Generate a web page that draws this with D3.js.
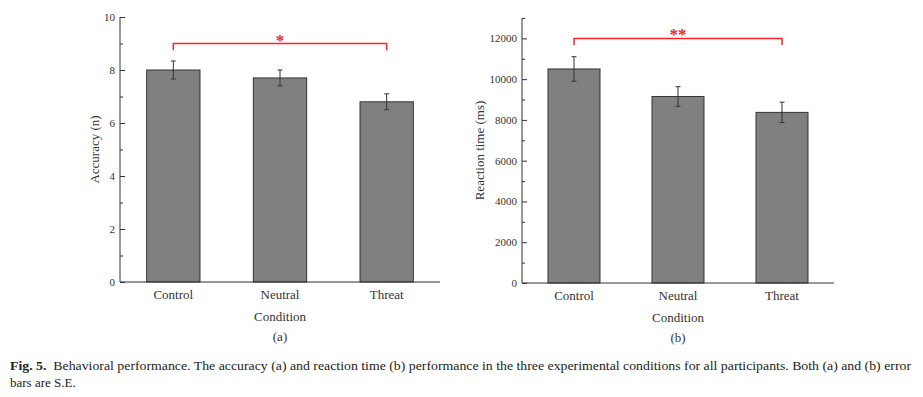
<!DOCTYPE html>
<html>
<head>
<meta charset="utf-8">
<script src="https://cdn.jsdelivr.net/npm/d3@7"></script>
<style>
  body { margin: 0; background: #fff; }
  text { font-family: "Liberation Serif", "Times New Roman", serif; fill: #333; }
</style>
</head>
<body>
<script>
// Data
var conditions = ["Control", "Neutral", "Threat"];
var accuracy = [8.0, 7.7, 6.8];
var accuracySE = [0.34, 0.3, 0.3];
var rtime = [10500, 9150, 8370];
var rtimeSE = [600, 480, 500];
var accTicks = [0, 2, 4, 6, 8, 10];
var accMinor = [1, 3, 5, 7, 9];
var rtTicks = [0, 2000, 4000, 6000, 8000, 10000, 12000];
var rtMinor = [1000, 3000, 5000, 7000, 9000, 11000, 13000];

var width = 923, height = 397;

var svg = d3.select("body").append("svg")
    .attr("width", width)
    .attr("height", height);

// draw one bar panel
function panel(opt) {
  var x = d3.scaleBand()
      .domain(conditions)
      .range([opt.left, opt.right])
      .paddingInner(0.5)
      .paddingOuter(0.25);

  var y = d3.scaleLinear()
      .domain(opt.domain)
      .range([opt.bottom, opt.top]);

  var g = svg.append("g");

  // bars
  g.selectAll("rect.bar")
      .data(opt.values)
      .enter().append("rect")
      .attr("class", "bar")
      .attr("x", function(d, i) { return x(conditions[i]); })
      .attr("y", function(d) { return y(d); })
      .attr("width", x.bandwidth())
      .attr("height", function(d) { return y(0) - y(d); })
      .attr("fill", "#808080")
      .attr("stroke", "#333")
      .attr("stroke-width", 1);

  // error bars
  var err = g.selectAll("g.err")
      .data(opt.values)
      .enter().append("g")
      .attr("class", "err")
      .attr("stroke", "#333")
      .attr("stroke-width", 1);

  err.append("line")
      .attr("x1", function(d, i) { return x(conditions[i]) + x.bandwidth() / 2; })
      .attr("x2", function(d, i) { return x(conditions[i]) + x.bandwidth() / 2; })
      .attr("y1", function(d, i) { return y(d + opt.se[i]); })
      .attr("y2", function(d, i) { return y(d - opt.se[i]); });

  [1, -1].forEach(function(s) {
    err.append("line")
        .attr("x1", function(d, i) { return x(conditions[i]) + x.bandwidth() / 2 - 2.5; })
        .attr("x2", function(d, i) { return x(conditions[i]) + x.bandwidth() / 2 + 2.5; })
        .attr("y1", function(d, i) { return y(d + s * opt.se[i]); })
        .attr("y2", function(d, i) { return y(d + s * opt.se[i]); });
  });

  // y axis, ticks pointing inward
  var yAxis = g.append("g")
      .attr("transform", "translate(" + opt.left + ",0)")
      .call(d3.axisRight(y).tickValues(opt.ticks).tickSize(5).tickFormat(""));
  yAxis.select(".domain").attr("stroke", "#333").attr("d", "M0," + y(opt.domain[1]) + "V" + y(0));
  yAxis.selectAll(".tick line").attr("stroke", "#333");

  g.append("g")
      .attr("transform", "translate(" + opt.left + ",0)")
      .call(d3.axisRight(y).tickValues(opt.minor).tickSize(3).tickFormat(""))
      .call(function(a) { a.select(".domain").remove(); })
      .selectAll(".tick line").attr("stroke", "#333");

  g.selectAll("text.ylab")
      .data(opt.ticks)
      .enter().append("text")
      .attr("class", "ylab")
      .attr("x", opt.left - 5)
      .attr("y", function(d) { return y(d) + 4; })
      .attr("text-anchor", "end")
      .style("font-size", "11px")
      .text(function(d) { return d; });

  // x axis
  g.append("line")
      .attr("x1", opt.left).attr("x2", opt.right)
      .attr("y1", y(0)).attr("y2", y(0))
      .attr("stroke", "#333")
      .attr("stroke-width", 1.2);

  g.selectAll("text.xlab")
      .data(conditions)
      .enter().append("text")
      .attr("class", "xlab")
      .attr("x", function(d) { return x(d) + x.bandwidth() / 2; })
      .attr("y", y(0) + 17)
      .attr("text-anchor", "middle")
      .style("font-size", "13px")
      .text(function(d) { return d; });

  g.append("text")
      .attr("x", x("Neutral") + x.bandwidth() / 2)
      .attr("y", y(0) + 39)
      .attr("text-anchor", "middle")
      .style("font-size", "13px")
      .text("Condition");

  g.append("text")
      .attr("x", x("Neutral") + x.bandwidth() / 2)
      .attr("y", y(0) + 59)
      .attr("text-anchor", "middle")
      .style("font-size", "13px")
      .text(opt.panel);

  // y title
  g.append("text")
      .attr("transform", "translate(" + opt.titleX + "," + ((y(0) + y(opt.domain[1])) / 2) + ") rotate(-90)")
      .attr("text-anchor", "middle")
      .style("font-size", "13px")
      .text(opt.title);

  // significance bracket
  var bx1 = x("Control") + x.bandwidth() / 2,
      bx2 = x("Threat") + x.bandwidth() / 2;
  g.append("path")
      .attr("d", "M" + bx1 + "," + y(opt.sig[1]) + "V" + y(opt.sig[0]) + "H" + bx2 + "V" + y(opt.sig[1]))
      .attr("fill", "none")
      .attr("stroke", "#f22")
      .attr("stroke-width", 1.5);

  g.append("text")
      .attr("x", (bx1 + bx2) / 2)
      .attr("y", y(opt.sig[0]) + 2)
      .attr("text-anchor", "middle")
      .style("font-size", "17px")
      .style("font-weight", "bold")
      .style("fill", "#f22")
      .text(opt.stars);
}

panel({
  left: 120, right: 440, top: 17, bottom: 282,
  domain: [0, 10], values: accuracy, se: accuracySE,
  ticks: accTicks, minor: accMinor,
  title: "Accuracy (n)", titleX: 99, panel: "(a)",
  sig: [9, 8.75], stars: "*"
});

panel({
  left: 522, right: 834, top: 18, bottom: 283,
  domain: [0, 13000], values: rtime, se: rtimeSE,
  ticks: rtTicks, minor: rtMinor,
  title: "Reaction time (ms)", titleX: 484, panel: "(b)",
  sig: [12000, 11680], stars: "**"
});

// caption
var cap1 = svg.append("text")
    .attr("x", 10)
    .attr("y", 370)
    .attr("textLength", 901)
    .attr("lengthAdjust", "spacingAndGlyphs")
    .style("font-size", "13px")
    .style("fill", "#222");
cap1.append("tspan").style("font-weight", "bold").text("Fig. 5.");
cap1.append("tspan").text("\u00a0\u00a0Behavioral performance. The accuracy (a) and reaction time (b) performance in the three experimental conditions for all participants. Both (a) and (b) error");

svg.append("text")
    .attr("x", 10)
    .attr("y", 387)
    .style("font-size", "13px")
    .style("fill", "#222")
    .text("bars are S.E.");
</script>
</body>
</html>
